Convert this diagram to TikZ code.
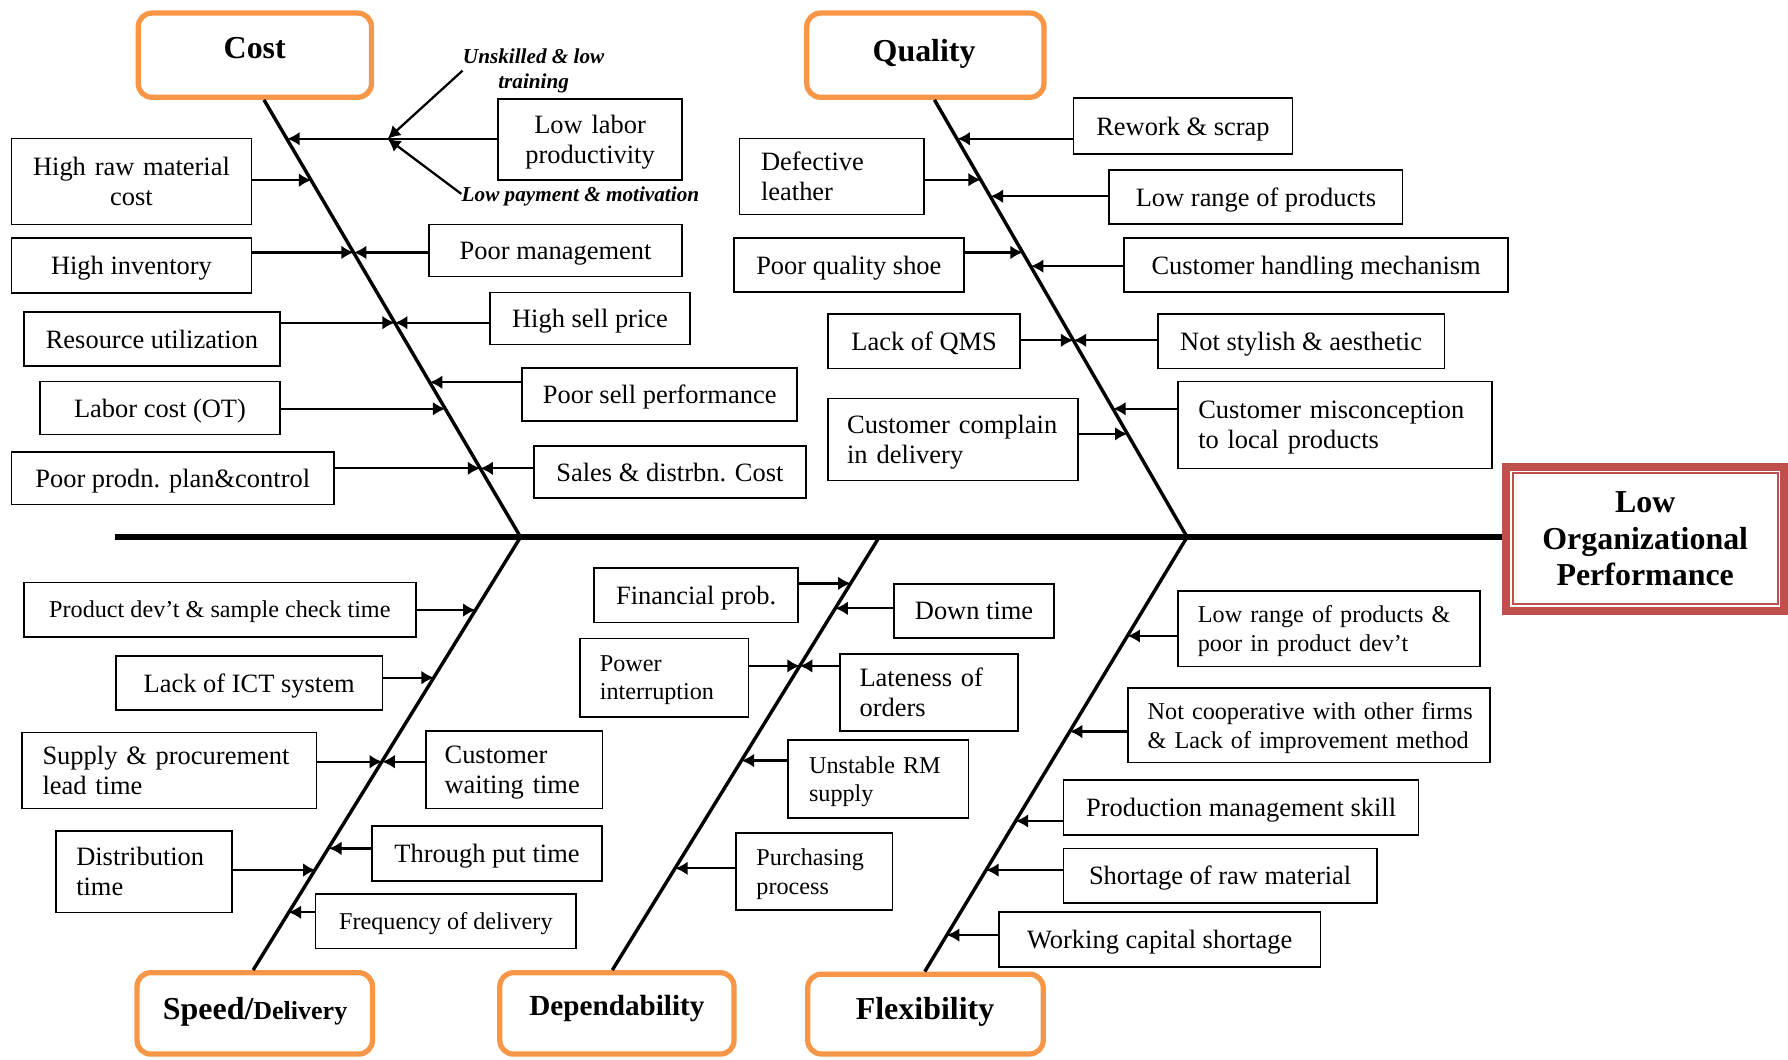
\documentclass[tikz,border=0pt]{standalone}
\usepackage{fontspec}
\setmainfont{Liberation Serif}
\usetikzlibrary{arrows.meta}

\definecolor{catorange}{HTML}{F79646}
\definecolor{effectred}{HTML}{C0504D}

\newcommand\fsmain{\fontsize{11.6pt}{13.3pt}\selectfont}
\newcommand\fssmall{\fontsize{10.6pt}{12.6pt}\selectfont}
\newcommand\fscat{\fontsize{14pt}{16pt}\selectfont\bfseries}
\newcommand\fssub{\fontsize{9.3pt}{11pt}\selectfont\bfseries\itshape}

\tikzset{
  cause/.style={draw, line width=0.75pt, inner sep=0pt, font=\fsmain, align=center},
  causel/.style={cause, align=left},
  smallfont/.style={font=\fssmall},
  % vertical placement of the text block: single line / two lines
  oneline/.style={text depth=0pt},
  twoline/.style={text depth=13.3pt},
  twosmall/.style={text depth=12.6pt},
  dim/.style 2 args={minimum width=#1pt, minimum height=#2pt},
  catbox/.style={draw=catorange, line width=2.3pt, rounded corners=6pt, inner sep=0pt},
  cattext/.style={font=\fscat, inner sep=0pt, text depth=0pt},
  bone/.style={line width=1.5pt},
  spine/.style={line width=2.8pt},
  arr/.style={line width=1pt, -{Latex[length=5.5pt,width=6pt]}},
  sublabel/.style={font=\fssub, inner sep=0pt, align=center},
}

\begin{document}
\begin{tikzpicture}[x=0.5pt,y=-0.5pt]
\useasboundingbox (0,0) rectangle (1568,929);

% ---------- effect box ----------
\node[draw=effectred, line width=3.35pt, outer sep=1.675pt, inner sep=0pt,
      minimum width=121.9pt, minimum height=63.15pt, align=center,
      font=\fontsize{14pt}{15.85pt}\selectfont\bfseries] (lop) at (1442.75,472.5)
      {Low\\Organizational\\Performance};
\draw[effectred, line width=0.9pt]
  ([shift={(4.55pt,-4.55pt)}]lop.north west) rectangle ([shift={(-4.55pt,4.55pt)}]lop.south east);

% ---------- category boxes ----------
\node[catbox, dim={102.3}{36.9}] (cost) at (223.5,48.4) {};
\node[catbox, dim={104}{36.9}] (quality) at (811.5,48.4) {};
\node[catbox, dim={103.2}{35.7}] (speed) at (223.4,888.7) {};
\node[catbox, dim={102.7}{35.7}] (dep) at (541,888.7) {};
\node[catbox, dim={103.3}{35}] (flex) at (811.6,889.3) {};

\node[cattext] (costt) at (223.4,42.3) {Cost};
\node[cattext] (qualityt) at (810.4,43.8) {Quality};
\node[cattext] (speedt) at (223.7,884.3) {Speed/{\fontsize{11.4pt}{13pt}\selectfont Delivery}};
\node[cattext, font=\fontsize{12.8pt}{15pt}\selectfont\bfseries] (dept) at (541,881.3) {Dependability};
\node[cattext] (flext) at (811.2,884.3) {Flexibility};

% ---------- spine and bones ----------
\coordinate (spL) at (101,471);
\coordinate (jA) at (456.5,471);
\coordinate (jD) at (771,471);
\coordinate (jB) at (1041,471);

\draw[spine] (spL) -- (spL -| lop.west);
\draw[bone] ([xshift=4pt]cost.south) -- (jA);
\draw[bone] ([xshift=4pt]quality.south) -- (jB);
\draw[bone] (jA) -- ([xshift=-0.7pt]speed.north);
\draw[bone] (jD) -- ([xshift=-2pt]dep.north);
\draw[bone] (jB) -- ([xshift=-0.3pt]flex.north);

% ---------- cost causes ----------
\node[cause, twoline, text width=75pt, dim={80.5}{35.45}] (lowlab) at (517.5,122.2) {Low labor\\productivity};
\node[cause, twoline, text width=100pt, dim={105.3}{37.75}] (rawmat) at (115.3,159.2) {High raw material\\cost};
\node[cause, oneline, dim={105.3}{24.15}] (inventory) at (115.3,232.6) {High inventory};
\node[cause, oneline, dim={110.75}{22.8}] (poormgmt) at (487.2,219.7) {Poor management};
\node[cause, oneline, dim={112.35}{23.85}] (resource) at (133.3,297.2) {Resource utilization};
\node[cause, oneline, dim={87.75}{22.8}] (sellprice) at (517.4,279.2) {High sell price};
\node[cause, oneline, dim={120.5}{23}] (sellperf) at (578.5,346) {Poor sell performance};
\node[cause, oneline, dim={105.3}{23.25}] (laborcost) at (140.3,357.9) {Labor cost (OT)};
\node[cause, oneline, dim={141.5}{22.95}] (prodn) at (151.5,419.5) {Poor prodn. plan\&control};
\node[cause, oneline, dim={119.5}{23}] (sales) at (587.5,414) {Sales \& distrbn. Cost};

\node[sublabel] (unsk) at (468,62) {Unskilled \& low\\training};
\node[sublabel, text depth=0pt] (lowpay) at (509,170) {Low payment \& motivation};
\coordinate (jL) at (340,121.7);

\coordinate (tA1) at (251.8,121.7);
\coordinate (tA2) at (273.1,158);
\coordinate (tA3) at (310.3,221.4);
\coordinate (tA5) at (346.3,283);
\coordinate (tA7) at (376.9,335.2);
\coordinate (tA8) at (390.6,358.5);
\coordinate (tA9) at (421.2,410.7);

\draw[arr] (lowlab.west |- tA1) -- (tA1);
\draw[arr] (unsk.west) -- (jL);
\draw[arr] (lowpay.west) -- (jL);
\draw[arr] (rawmat.east |- tA2) -- (tA2);
\draw[arr] (inventory.east |- tA3) -- (tA3);
\draw[arr] (poormgmt.west |- tA3) -- (tA3);
\draw[arr] (resource.east |- tA5) -- (tA5);
\draw[arr] (sellprice.west |- tA5) -- (tA5);
\draw[arr] (sellperf.west |- tA7) -- (tA7);
\draw[arr] (laborcost.east |- tA8) -- (tA8);
\draw[arr] (prodn.east |- tA9) -- (tA9);
\draw[arr] (sales.west |- tA9) -- (tA9);

% ---------- quality causes ----------
\node[cause, oneline, dim={96}{24.5}] (rework) at (1037.4,110.5) {Rework \& scrap};
\node[causel, twoline, text width=62pt, dim={81}{33.35}] (defective) at (729.4,154.8) {Defective\\leather};
\node[cause, oneline, dim={128.6}{23.7}] (lowrange) at (1101.4,172.6) {Low range of products};
\node[cause, oneline, dim={100.9}{23.85}] (poorshoe) at (744.4,232.3) {Poor quality shoe};
\node[cause, oneline, dim={168.45}{23.85}] (handling) at (1154.2,232.3) {Customer handling mechanism};
\node[cause, oneline, dim={84.1}{23.85}] (qms) at (810.4,299.3) {Lack of QMS};
\node[cause, oneline, dim={125.7}{23.85}] (stylish) at (1141,299.3) {Not stylish \& aesthetic};
\node[causel, twoline, text width=120pt, dim={137.55}{38.05}] (misconc) at (1170.8,372.7) {Customer misconception\\to local products};
\node[causel, twoline, text width=93pt, dim={109.6}{35.95}] (complain) at (835.9,385.4) {Customer complain\\in delivery};

\coordinate (tB1) at (839.5,121.7);
\coordinate (tB2) at (860.2,157.6);
\coordinate (tB3) at (868.6,172.1);
\coordinate (tB4) at (897.0,221.4);
\coordinate (tB5) at (904.0,233.4);
\coordinate (tB6) at (941.4,298.4);
\coordinate (tB8) at (976.1,358.5);
\coordinate (tB9) at (988.8,380.5);

\draw[arr] (rework.west |- tB1) -- (tB1);
\draw[arr] (defective.east |- tB2) -- (tB2);
\draw[arr] (lowrange.west |- tB3) -- (tB3);
\draw[arr] (poorshoe.east |- tB4) -- (tB4);
\draw[arr] (handling.west |- tB5) -- (tB5);
\draw[arr] (qms.east |- tB6) -- (tB6);
\draw[arr] (stylish.west |- tB6) -- (tB6);
\draw[arr] (misconc.west |- tB8) -- (tB8);
\draw[arr] (complain.east |- tB9) -- (tB9);

% ---------- speed / delivery causes ----------
\node[cause, smallfont, oneline, dim={172}{23.85}] (proddev) at (192.8,534.6) {Product dev’t \& sample check time};
\node[cause, oneline, dim={116.9}{23.7}] (ict) at (218.5,599) {Lack of ICT system};
\node[causel, twoline, text width=111pt, dim={129.15}{33.3}] (supply) at (148.3,675.6) {Supply \& procurement\\lead time};
\node[causel, twoline, text width=61pt, dim={77.35}{34.05}] (waiting) at (450.9,674.9) {Customer\\waiting time};
\node[cause, oneline, dim={101.1}{23.95}] (through) at (427.1,748.4) {Through put time};
\node[causel, twoline, text width=59.5pt, dim={77.2}{35.8}] (distrib) at (126.4,764.3) {Distribution\\time};
\node[cause, smallfont, oneline, dim={114.3}{23.7}] (freq) at (391,808) {Frequency of delivery};

\coordinate (tC1) at (417.1,535);
\coordinate (tC2) at (380.6,594.3);
\coordinate (tC3) at (335.2,668);
\coordinate (tC5) at (288.5,744);
\coordinate (tC6) at (276.8,763);
\coordinate (tC7) at (253.0,800);

\draw[arr] (proddev.east |- tC1) -- (tC1);
\draw[arr] (ict.east |- tC2) -- (tC2);
\draw[arr] (supply.east |- tC3) -- (tC3);
\draw[arr] (waiting.west |- tC3) -- (tC3);
\draw[arr] (through.west |- tC5) -- (tC5);
\draw[arr] (distrib.east |- tC6) -- (tC6);
\draw[arr] (freq.west |- tC7) -- (tC7);

% ---------- dependability causes ----------
\node[cause, oneline, dim={89.55}{23.7}] (financial) at (610.5,522.1) {Financial prob.};
\node[cause, oneline, dim={70.15}{23.8}] (downtime) at (854.2,536) {Down time};
\node[causel, smallfont, twosmall, text width=56.4pt, dim={73.85}{34.35}] (power) at (582.5,594.2) {Power\\interruption};
\node[causel, twoline, text width=61pt, dim={78.2}{33.5}] (lateness) at (814.8,607.3) {Lateness of\\orders};
\node[causel, smallfont, twosmall, text width=60.5pt, dim={79.25}{34.3}] (unstable) at (770,683.3) {Unstable RM\\supply};
\node[causel, smallfont, twosmall, text width=50.5pt, dim={68.65}{33.9}] (purchasing) at (713.9,764.1) {Purchasing\\process};

\coordinate (tD1) at (746.0,511.6);
\coordinate (tD2) at (732.5,533.5);
\coordinate (tD3) at (701.4,584);
\coordinate (tD5) at (650.3,667);
\coordinate (tD6) at (592.1,761.5);

\draw[arr] (financial.east |- tD1) -- (tD1);
\draw[arr] (downtime.west |- tD2) -- (tD2);
\draw[arr] (power.east |- tD3) -- (tD3);
\draw[arr] (lateness.west |- tD3) -- (tD3);
\draw[arr] (unstable.west |- tD5) -- (tD5);
\draw[arr] (purchasing.west |- tD6) -- (tD6);

% ---------- flexibility causes ----------
\node[causel, smallfont, twosmall, text width=115pt, dim={132.5}{33.3}] (lowrange2) at (1165.5,551.3) {Low range of products \&\\poor in product dev’t};
\node[causel, smallfont, twosmall, text width=141.5pt, dim={158.95}{32.6}] (coop) at (1148,636.2)
  {\mbox{Not cooperative with other firms}\\\mbox{\& Lack of improvement method}};
\node[cause, oneline, dim={155.65}{24.15}] (prodskill) at (1088.4,708.2) {Production management skill};
\node[cause, oneline, dim={137.3}{23.8}] (shortage) at (1070,767.8) {Shortage of raw material};
\node[cause, oneline, dim={141}{23.85}] (working) at (1017,823.9) {Working capital shortage};

\coordinate (tE1) at (988.7,557.7);
\coordinate (tE2) at (938.1,641.5);
\coordinate (tE3) at (890.7,720);
\coordinate (tE4) at (864.7,763);
\coordinate (tE5) at (830.3,820);

\draw[arr] (lowrange2.west |- tE1) -- (tE1);
\draw[arr] (coop.west |- tE2) -- (tE2);
\draw[arr] (prodskill.west |- tE3) -- (tE3);
\draw[arr] (shortage.west |- tE4) -- (tE4);
\draw[arr] (working.west |- tE5) -- (tE5);

\end{tikzpicture}
\end{document}
